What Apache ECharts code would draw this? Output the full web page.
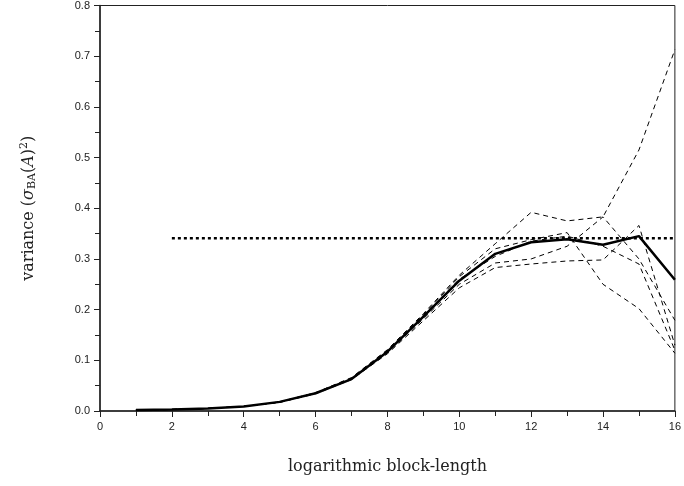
<!DOCTYPE html>
<html>
<head>
<meta charset="utf-8">
<script src="https://cdn.jsdelivr.net/npm/echarts@6/dist/echarts.min.js"></script>
<style>html,body{margin:0;padding:0;background:#fff;}#c{width:684px;height:486px;}</style>
</head>
<body>
<div id="c"></div>
<script>
var blockLengths = [1,2,3,4,5,6,7,8,9,10,11,12,13,14,15,16];
var meanVariance = [0.002,0.003,0.005,0.009,0.018,0.035,0.063,0.117,0.186,0.257,0.310,0.333,0.339,0.328,0.345,0.259];
var run1 = [0.002,0.003,0.005,0.009,0.018,0.036,0.066,0.121,0.192,0.268,0.330,0.392,0.375,0.383,0.515,0.713];
var run2 = [0.002,0.003,0.005,0.009,0.018,0.036,0.065,0.120,0.190,0.265,0.320,0.338,0.352,0.250,0.202,0.114];
var run3 = [0.002,0.003,0.005,0.009,0.017,0.034,0.062,0.113,0.178,0.243,0.283,0.290,0.296,0.298,0.366,0.130];
var run4 = [0.002,0.003,0.005,0.009,0.017,0.035,0.064,0.115,0.182,0.250,0.292,0.300,0.325,0.383,0.300,0.179];
var run5 = [0.002,0.003,0.005,0.009,0.018,0.035,0.064,0.118,0.188,0.260,0.305,0.335,0.345,0.325,0.290,0.120];
var refLineX = [2,16];
var refLineY = 0.341;
var xTicks = [0,2,4,6,8,10,12,14,16];

function pairs(ys){ return blockLengths.map(function(x,i){ return [x, ys[i]]; }); }

var chart = echarts.init(document.getElementById('c'), null, {renderer:'canvas'});
var dashed = {color:'#000', width:1, type:[5,4]};
var runs = [run1, run2, run3, run4, run5];
var series = runs.map(function(r){
  return {type:'line', data:pairs(r), showSymbol:false, symbol:'none', lineStyle:dashed, z:2, animation:false};
});
series.push({type:'line', data:refLineX.map(function(x){return [x, refLineY];}), symbol:'none',
  lineStyle:{color:'#000', width:2.5, type:[3,3]}, z:3, animation:false});
series.push({type:'line', data:pairs(meanVariance), symbol:'none',
  lineStyle:{color:'#000', width:2.5}, z:4, animation:false});

chart.setOption({
  animation:false,
  backgroundColor:'#fff',
  grid:{left:100, right:7, top:4, bottom:75, show:true, borderColor:'#222', borderWidth:1, backgroundColor:'transparent'},
  xAxis:{
    type:'value', min:0, max:16, interval:2,
    name:'logarithmic block-length', nameLocation:'middle', nameGap:48,
    nameTextStyle:{fontFamily:'DejaVu Serif', fontSize:16, color:'#222'},
    axisLine:{show:true, lineStyle:{color:'#222', width:1.5}},
    axisTick:{show:true, inside:false, length:6, lineStyle:{color:'#222'}},
    minorTick:{show:true, splitNumber:2, length:5, lineStyle:{color:'#222'}},
    splitLine:{show:false},
    axisLabel:{fontFamily:'Liberation Sans', fontSize:11, color:'#222', margin:10}
  },
  yAxis:{
    type:'value', min:0, max:0.8, interval:0.1,
    name:'{n|variance (}{i|σ}{s|BA}{n|(}{i|A}{n|)}{p|2}{n|)}',
    nameLocation:'middle', nameGap:62, nameRotate:90,
    nameTextStyle:{
      fontFamily:'DejaVu Serif', fontSize:16, color:'#222',
      rich:{
        n:{fontFamily:'DejaVu Serif', fontSize:16, color:'#222'},
        i:{fontFamily:'DejaVu Serif', fontStyle:'italic', fontSize:16, color:'#222'},
        s:{fontFamily:'DejaVu Serif', fontSize:11, color:'#222', verticalAlign:'bottom', padding:[8,0,0,0]},
        p:{fontFamily:'DejaVu Serif', fontSize:11, color:'#222', verticalAlign:'top', padding:[0,0,8,0]}
      }
    },
    axisLine:{show:true, lineStyle:{color:'#222', width:1.5}},
    axisTick:{show:true, inside:false, length:6, lineStyle:{color:'#222'}},
    minorTick:{show:true, splitNumber:2, length:5, lineStyle:{color:'#222'}},
    splitLine:{show:false},
    axisLabel:{fontFamily:'Liberation Sans', fontSize:11, color:'#222', margin:10,
      formatter:function(v){ return v.toFixed(1); }}
  },
  series:series
});
</script>
</body>
</html>
